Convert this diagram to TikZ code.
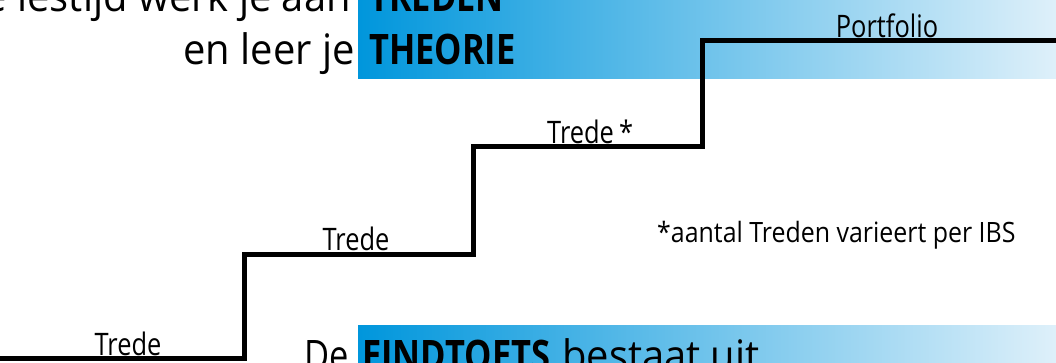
\documentclass[tikz,border=0pt]{standalone}
\usepackage{fontspec}
\setmainfont{Open Sans}
\newfontfamily\cond[FakeStretch=0.82]{Open Sans}
\newfontfamily\condreg[FakeStretch=0.95]{Open Sans}
\newfontfamily\condnote[FakeStretch=0.89]{Open Sans}
\definecolor{blueL}{RGB}{0,150,220}
\definecolor{blueR}{RGB}{222,240,250}
\begin{document}
\begin{tikzpicture}[x=1pt,y=-1pt,
  stairline/.style={line width=5pt, line join=miter},
  steplabel/.style={font=\cond\fontsize{31}{36}\selectfont, inner sep=0pt, anchor=base},
  heading/.style={font=\condreg\fontsize{42}{50}\selectfont, inner sep=0pt},
  headnarrow/.style={font=\cond\fontsize{42}{50}\selectfont, inner sep=0pt},
  headbold/.style={font=\cond\bfseries\fontsize{42}{50}\selectfont, inner sep=0pt},
  notetext/.style={font=\condnote\fontsize{28}{32}\selectfont, inner sep=0pt, anchor=base west},
  bluebar/.style={left color=blueL, right color=blueR}]
\fill[white] (0,0) rectangle (1056,363);
\useasboundingbox (0,0) rectangle (1056,363);
% blue bars
\shade[bluebar] (358,-20) rectangle (1056,79);
\shade[bluebar] (358,325) rectangle (1056,400);
% heading text
\node[heading, anchor=base east] (l1a) at (351,12) {de lestijd werk je aan};
\node[headbold, anchor=base west] (l1b) at (369,12) {TREDEN};
\node[heading, anchor=base east] (l2a) at (355,65) {en leer je};
\node[headbold, anchor=base west] (l2b) at (369,65) {THEORIE};
\node[headnarrow, anchor=base east] (b1) at (349,370) {De};
\node[headbold, anchor=base west] (b2) at (362,370) {EINDTOETS};
\node[heading, anchor=base west] (b3) at (562,370) {bestaat uit};
% stairs
\coordinate (s0) at (-5,358);
\coordinate (s1) at (244,358);
\coordinate (s2) at (244,254);
\coordinate (s3) at (473,254);
\coordinate (s4) at (473,147);
\coordinate (s5) at (702,147);
\coordinate (s6) at (702,41);
\coordinate (s7) at (1062,41);
\draw[stairline] (s0) -- (s1) -- (s2) -- (s3) -- (s4) -- (s5) -- (s6) -- (s7);
% step labels
\node[steplabel] (t1) at (128,355) {Trede};
\node[steplabel] (t2) at (356,251) {Trede};
\node[steplabel, anchor=base west] (t3) at (547,144) {Trede\,*};
\node[steplabel] (t4) at (887,38) {Portfolio};
\node[notetext] (note) at (657,242) {*aantal Treden varieert per IBS};
\end{tikzpicture}
\end{document}
